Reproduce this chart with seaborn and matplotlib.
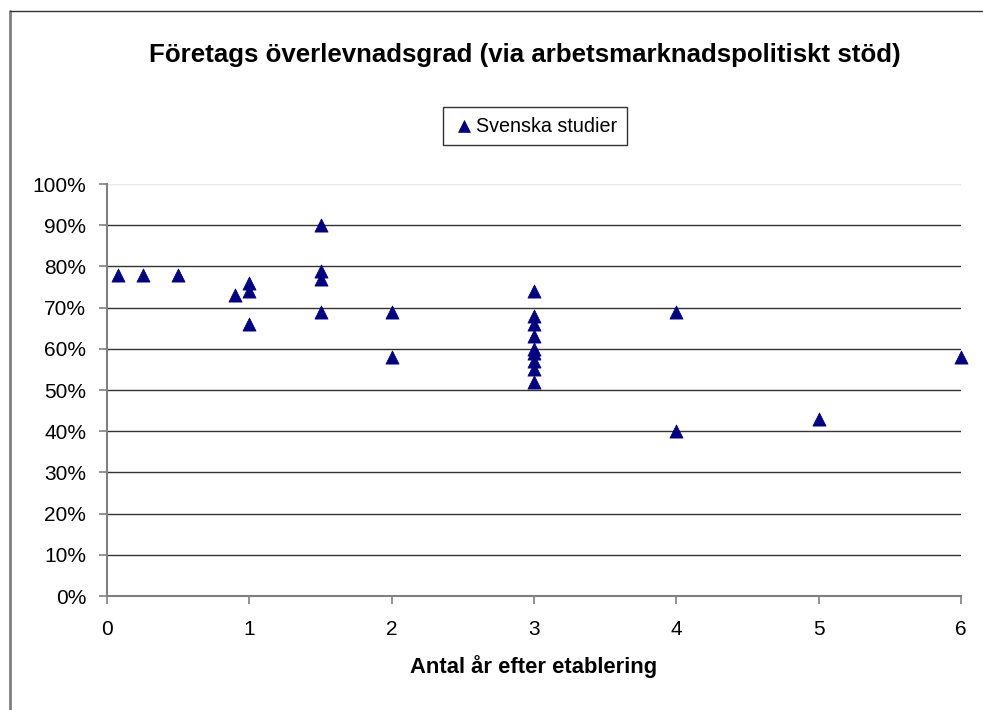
import matplotlib
matplotlib.use("Agg")
import matplotlib.pyplot as plt
import seaborn as sns
import pandas as pd
from matplotlib.ticker import PercentFormatter

# years after establishment and survival rate (%)
years = [0.08, 0.25, 0.5, 0.9, 1.0, 1.0, 1.0, 1.5, 1.5, 1.5, 1.5, 2, 2,
         3, 3, 3, 3, 3, 3, 3, 3, 3, 4, 4, 5, 6]
survival = [78, 78, 78, 73, 76, 74, 66, 90, 79, 77, 69, 69, 58,
            74, 68, 66, 63, 60, 59, 57, 55, 52, 69, 40, 43, 58]
series_name = "Svenska studier"

df = pd.DataFrame({"years": years, "survival": survival})

sns.set_style("white")
plt.rcParams["font.family"] = ["Liberation Sans", "DejaVu Sans"]
plt.rcParams["text.color"] = "black"
plt.rcParams["axes.labelcolor"] = "black"

fig = plt.figure(figsize=(9.83, 7.10), dpi=100)
ax = fig.add_axes([107 / 983, 1 - 596 / 710, (961 - 107) / 983, (596 - 184) / 710])

sns.scatterplot(data=df, x="years", y="survival", marker="^", s=90,
                color="#000080", edgecolor="#000080", linewidth=0.5,
                label=series_name, ax=ax, clip_on=False, zorder=3)

ax.set_xlim(0, 6)
ax.set_ylim(0, 100)
ax.set_xticks(range(0, 7))
ax.set_yticks(range(0, 101, 10))
ax.yaxis.set_major_formatter(PercentFormatter(decimals=0))
for y in range(10, 100, 10):
    ax.axhline(y, color="#333333", linewidth=1.0, zorder=1)
ax.axhline(100, color="#e8e8e8", linewidth=1.0, zorder=1)

for side in ["top", "right"]:
    ax.spines[side].set_visible(False)
for side in ["left", "bottom"]:
    ax.spines[side].set_color("#808080")
    ax.spines[side].set_linewidth(1.5)
ax.tick_params(axis="both", direction="out", length=6, width=1.2,
               color="#808080", labelcolor="black", labelsize=15,
               bottom=True, left=True)
ax.tick_params(axis="y", pad=9)
ax.tick_params(axis="x", pad=11)

ax.set_xlabel("Antal år efter etablering", fontsize=15.8, fontweight="bold", labelpad=12)
ax.set_ylabel("")

fig.text(525 / 983, 1 - 55 / 710, "Företags överlevnadsgrad (via arbetsmarknadspolitiskt stöd)",
         ha="center", va="center", fontsize=18.6, fontweight="bold")

leg = ax.legend(loc="center", bbox_to_anchor=(535 / 983, 1 - 126 / 710),
                bbox_transform=fig.transFigure, fontsize=14.2, frameon=True,
                fancybox=False, handletextpad=0.0, borderpad=0.5,
                markerscale=0.9, handlelength=1.2)
leg.get_frame().set_edgecolor("black")
leg.get_frame().set_linewidth(1.0)

# outer chart frame
fig.add_artist(plt.Line2D([9.5 / 983, 9.5 / 983], [0, 1 - 11 / 710],
                          transform=fig.transFigure, color="#808080", linewidth=2))
fig.add_artist(plt.Line2D([9.5 / 983, 1], [1 - 11 / 710, 1 - 11 / 710],
                          transform=fig.transFigure, color="#333333", linewidth=1))

fig.savefig("out.png", dpi=100)
